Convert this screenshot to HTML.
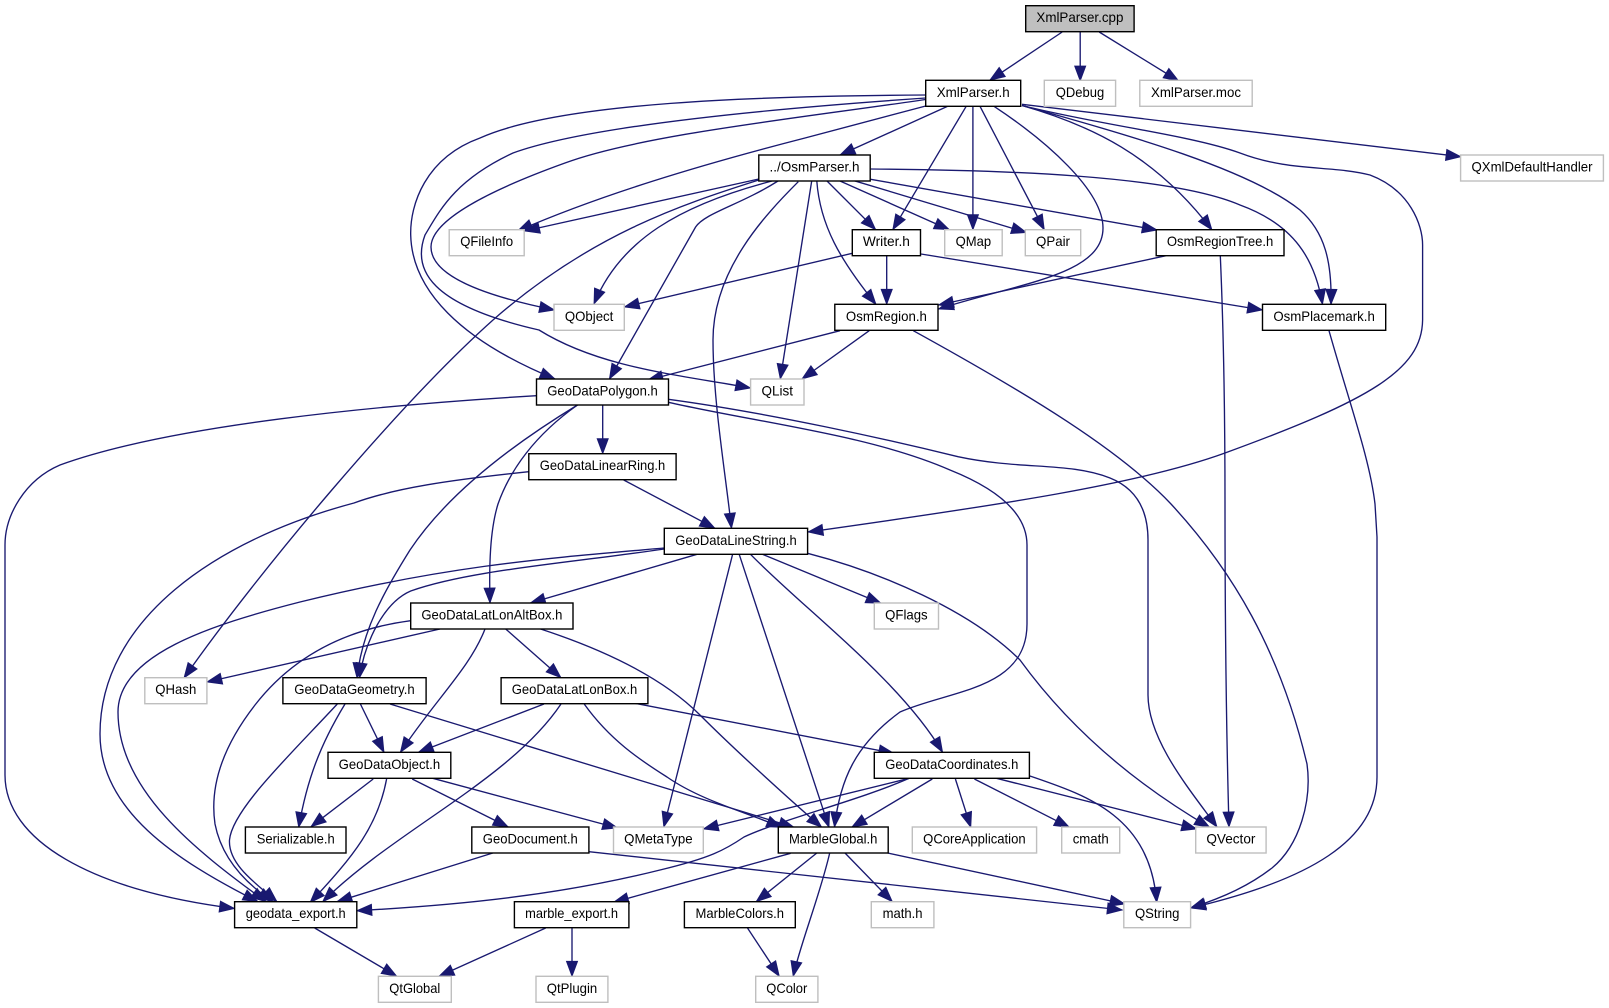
<!DOCTYPE html>
<html>
<head>
<meta charset="utf-8">
<title>XmlParser.cpp</title>
<style>
html,body{margin:0;padding:0;background:#fff}
svg{display:block}
.e path{fill:none;stroke:#191970;stroke-width:1.35;marker-end:url(#a)}
.n rect{fill:#fff;stroke:#000;stroke-width:1.4}
.g rect{fill:#fff;stroke:#bfbfbf;stroke-width:1.4}
text{font-family:"Liberation Sans",sans-serif;font-size:13.8px;fill:#000;text-anchor:middle}
</style>
</head>
<body>
<svg xmlns="http://www.w3.org/2000/svg" width="1609" height="1008" viewBox="0 0 1609 1008">
<defs>
<marker id="a" markerUnits="userSpaceOnUse" markerWidth="17" markerHeight="13" refX="15" refY="6" orient="auto" overflow="visible">
<path d="M0,0.4 L15,6 L0,11.6 Z" fill="#191970" stroke="#191970" stroke-width="0.8"/>
</marker>
</defs>
<g class="e">
<path d="M1062.2,32 L989.8,80.3"/>
<path d="M1080.2,32 L1080.2,81"/>
<path d="M1099.2,32 L1178.7,81"/>
<path d="M947.7,106.3 L840,155"/>
<path d="M966.2,106.3 L892.8,229.7"/>
<path d="M972.9,106.3 L972.9,229.7"/>
<path d="M980,106.3 L1044.3,229.7"/>
<path d="M994,106.3 C1045,140 1103,190 1103,228 C1103,275 1020,283 938.5,309"/>
<path d="M1022,105.5 C1090,125 1155,155 1212,230"/>
<path d="M1022,105.5 C1130,135 1250,170 1300,210 C1325,232 1332,262 1331,304.3"/>
<path d="M1022,105.5 C1100,125 1190,135 1240,153 C1290,172 1330,165 1370,175 C1410,190 1422.6,225 1422.6,245 L1422.6,320 C1422,370 1370,400 1225,453 C1140,484 1000,505 808,532"/>
<path d="M1022,104.3 L1461,156.7"/>
<path d="M925.7,95 C760,96 560,102 480,138 C425,158 410,205 410.7,235 C412,290 460,340 555,379"/>
<path d="M925.7,98 C780,108 590,125 513,153 C455,180 440,210 425,235 C412,270 430,305 539,330 C600,368 680,375 750.6,388"/>
<path d="M925.7,99.5 C800,118 640,135 565,163 C490,190 431,220 431,247 C431,275 480,295 554.5,310"/>
<path d="M925.7,106 L805,138 C700,165 600,195 517.5,231"/>
<path d="M758.8,179 L524.6,231"/>
<path d="M758.8,180 C680,205 590,235 493,320 C400,403 260,570 184,678"/>
<path d="M772,181 C680,205 620,240 594,304"/>
<path d="M778,181 C740,205 705,213 695.6,227 L609.4,379"/>
<path d="M798.3,181.7 C765,215 713,270 713,340 C713,400 725,470 731.5,528.3"/>
<path d="M811.7,181 L780.3,379"/>
<path d="M816.8,181 C820,225 840,260 876,304.3"/>
<path d="M827,181 L875.7,229.7"/>
<path d="M840,181 L949.3,229.7"/>
<path d="M852.8,180.3 L1026.5,232.5"/>
<path d="M870.7,179.3 L1157.2,230"/>
<path d="M870.7,169 C1000,170 1170,175 1240,205 C1295,225 1315,260 1322.5,304.3"/>
<path d="M852.3,253.3 L624.3,307"/>
<path d="M886.7,255.7 L886.7,304.3"/>
<path d="M921,254 L1262.5,310"/>
<path d="M1166,255.7 L938.5,305"/>
<path d="M1220.3,255.7 C1224,340 1225,420 1225,504 C1225,620 1226,720 1229,827"/>
<path d="M840,330.7 L647.9,380"/>
<path d="M869.2,330.7 L802,379"/>
<path d="M913.3,330.7 C1030,395 1120,450 1171,504 C1232,570 1280,650 1307,764 C1312,800 1300,845 1272,868 C1250,885 1225,897 1190.6,908"/>
<path d="M1329,330.7 C1350,405 1370,460 1375,504 L1377,537 L1377,777 C1377,840 1310,880 1190.6,908"/>
<path d="M536.5,395.7 C380,405 170,425 60,465 C25,480 5,515 5,545 L5,775 C5,840 90,890 234.6,908.5"/>
<path d="M577.5,405 C520,440 450,490 410,550 C385,590 362,630 357,678"/>
<path d="M577.5,405 C535,435 510,470 498,504 C490,530 489,565 490,603"/>
<path d="M602.7,405 L602.7,453.7"/>
<path d="M668.4,399.3 C770,413 890,440 958,456.7 C1020,470 1070,462 1110,478 C1140,490 1148,515 1148,540 L1148,695 C1148,740 1190,790 1217,827"/>
<path d="M668.4,402.3 C760,423 870,435 950,470 C1000,490 1027,515 1027,545 L1027,624 C1027,690 950,690 900,712 C855,745 840,780 834.5,827"/>
<path d="M623.7,480 L715,528.3"/>
<path d="M528.8,471.7 C450,480 395,488 354,503 C215,540 100,620 100,734 C100,810 175,860 258,901.7"/>
<path d="M664.3,548 C550,558 450,565 300,602 C210,625 118,655 118,712 C118,790 195,850 266,901.7"/>
<path d="M664.3,549 C570,563 470,570 410.7,591 C385,602 365,640 359.4,678"/>
<path d="M697,554.3 L530.3,603"/>
<path d="M732.6,554.3 L663.8,827"/>
<path d="M739.2,554.3 L829,827.3"/>
<path d="M750.5,554.3 C805,610 900,680 942.6,752.3"/>
<path d="M762.4,554.3 L881,603.3"/>
<path d="M807.6,553.3 C880,572 970,610 1020,660 C1060,715 1120,775 1209.6,827.3"/>
<path d="M410.7,620.7 C340,630 290,660 255,705 C220,750 210,790 215,824 C222,860 248,885 273,901.7"/>
<path d="M440,629 L206.9,682"/>
<path d="M485,629 C470,668 435,700 400.4,752.3"/>
<path d="M505.7,629 L561,677.7"/>
<path d="M540.6,629 C620,655 670,685 700,715 C735,750 790,800 821.7,827.3"/>
<path d="M544,704 L418.4,752.3"/>
<path d="M561,704 C510,780 395,830 322.7,901.7"/>
<path d="M584.2,704 C610,740 640,760 667,777 C700,800 745,812 781.7,827.3"/>
<path d="M635,703.3 L893.8,753.3"/>
<path d="M337.3,704 C290,755 232,810 229.5,840 C228,865 258,885 277,901.7"/>
<path d="M345,704 C320,745 307,780 298.7,827.3"/>
<path d="M360.4,704 L384,752.3"/>
<path d="M390,704 L794,827.3"/>
<path d="M373.2,779 L311,826.7"/>
<path d="M386.6,779 C378,825 355,855 310,902.7"/>
<path d="M412.2,779 L508.2,827"/>
<path d="M432.8,778.3 L617.6,828"/>
<path d="M492.8,853 L337,901.7"/>
<path d="M588.9,851.7 L1122.3,910"/>
<path d="M909.2,778.3 C860,800 780,820 744,837 C725,850 710,858 660,870 C560,895 460,905 356.8,910.7"/>
<path d="M909.2,778.3 L703.3,829"/>
<path d="M932.3,779 L851.7,827.3"/>
<path d="M955.4,779 L970.8,827.3"/>
<path d="M974.4,779 L1069.4,827.3"/>
<path d="M996.5,778.3 L1196.7,829"/>
<path d="M1029.9,776 C1085,795 1150,815 1156.7,902.3"/>
<path d="M790.6,853.3 L613.5,902.3"/>
<path d="M816.8,853 L756.2,901.7"/>
<path d="M829.7,853 C820,895 800,945 793.2,976.3"/>
<path d="M845,853 L892.3,901.7"/>
<path d="M887.7,853 L1124.9,904"/>
<path d="M545.7,928 L439,976.3"/>
<path d="M572,928 L572,976.3"/>
<path d="M747.5,928 L779.3,976.3"/>
<path d="M314.7,928 L396.8,976.3"/>
</g>
<g class="n">
<rect x="1025.7" y="5.7" width="108.4" height="26" style="fill:#bfbfbf"/>
<text x="1079.9" y="22.2" textLength="87" lengthAdjust="spacingAndGlyphs">XmlParser.cpp</text>
<rect x="925.7" y="80.3" width="95" height="26"/>
<text x="973.2" y="96.8" textLength="73" lengthAdjust="spacingAndGlyphs">XmlParser.h</text>
<rect x="758.8" y="155" width="111.4" height="26"/>
<text x="814.5" y="171.5" textLength="90" lengthAdjust="spacingAndGlyphs">../OsmParser.h</text>
<rect x="852.3" y="229.7" width="68.2" height="26"/>
<text x="886.4" y="246.2" textLength="47" lengthAdjust="spacingAndGlyphs">Writer.h</text>
<rect x="1156.2" y="229.7" width="127.8" height="26"/>
<text x="1220.1" y="246.2" textLength="106.5" lengthAdjust="spacingAndGlyphs">OsmRegionTree.h</text>
<rect x="834.8" y="304.3" width="103.2" height="26"/>
<text x="886.4" y="320.8" textLength="81" lengthAdjust="spacingAndGlyphs">OsmRegion.h</text>
<rect x="1262.5" y="304.3" width="123.2" height="26"/>
<text x="1324.1" y="320.8" textLength="101.5" lengthAdjust="spacingAndGlyphs">OsmPlacemark.h</text>
<rect x="536.5" y="379" width="132" height="26"/>
<text x="602.5" y="395.5" textLength="110.5" lengthAdjust="spacingAndGlyphs">GeoDataPolygon.h</text>
<rect x="528.8" y="453.7" width="147.3" height="26"/>
<text x="602.5" y="470.2" textLength="125.5" lengthAdjust="spacingAndGlyphs">GeoDataLinearRing.h</text>
<rect x="664.3" y="528.3" width="143.3" height="26"/>
<text x="736" y="544.8" textLength="121.5" lengthAdjust="spacingAndGlyphs">GeoDataLineString.h</text>
<rect x="410.7" y="603" width="162.3" height="26"/>
<text x="491.9" y="619.5" textLength="141" lengthAdjust="spacingAndGlyphs">GeoDataLatLonAltBox.h</text>
<rect x="282.9" y="677.7" width="143.2" height="26"/>
<text x="354.5" y="694.2" textLength="120.5" lengthAdjust="spacingAndGlyphs">GeoDataGeometry.h</text>
<rect x="501.1" y="677.7" width="146.8" height="26"/>
<text x="574.5" y="694.2" textLength="125.5" lengthAdjust="spacingAndGlyphs">GeoDataLatLonBox.h</text>
<rect x="328" y="752.3" width="122.8" height="26"/>
<text x="389.4" y="768.8" textLength="101.5" lengthAdjust="spacingAndGlyphs">GeoDataObject.h</text>
<rect x="874.3" y="752.3" width="155.1" height="26"/>
<text x="951.8" y="768.8" textLength="133" lengthAdjust="spacingAndGlyphs">GeoDataCoordinates.h</text>
<rect x="245.4" y="827" width="100.6" height="26"/>
<text x="295.7" y="843.5" textLength="78" lengthAdjust="spacingAndGlyphs">Serializable.h</text>
<rect x="471.8" y="827" width="117.1" height="26"/>
<text x="530.3" y="843.5" textLength="95" lengthAdjust="spacingAndGlyphs">GeoDocument.h</text>
<rect x="778.3" y="827" width="109.9" height="26"/>
<text x="833.2" y="843.5" textLength="88.5" lengthAdjust="spacingAndGlyphs">MarbleGlobal.h</text>
<rect x="234.6" y="901.7" width="122.2" height="26"/>
<text x="295.7" y="918.2" textLength="100" lengthAdjust="spacingAndGlyphs">geodata_export.h</text>
<rect x="514.4" y="901.7" width="114.5" height="26"/>
<text x="571.6" y="918.2" textLength="93" lengthAdjust="spacingAndGlyphs">marble_export.h</text>
<rect x="684.4" y="901.7" width="110.9" height="26"/>
<text x="739.8" y="918.2" textLength="88.5" lengthAdjust="spacingAndGlyphs">MarbleColors.h</text>
</g>
<g class="g">
<rect x="1044.3" y="80.3" width="71.3" height="26"/>
<text x="1080" y="96.8" textLength="48.5" lengthAdjust="spacingAndGlyphs">QDebug</text>
<rect x="1139.8" y="80.3" width="112.4" height="26"/>
<text x="1196" y="96.8" textLength="90" lengthAdjust="spacingAndGlyphs">XmlParser.moc</text>
<rect x="1460.6" y="155" width="142.8" height="26"/>
<text x="1532" y="171.5" textLength="121" lengthAdjust="spacingAndGlyphs">QXmlDefaultHandler</text>
<rect x="449.2" y="229.7" width="75" height="26"/>
<text x="486.7" y="246.2" textLength="53" lengthAdjust="spacingAndGlyphs">QFileInfo</text>
<rect x="944.7" y="229.7" width="57.5" height="26"/>
<text x="973.4" y="246.2" textLength="35.5" lengthAdjust="spacingAndGlyphs">QMap</text>
<rect x="1025.3" y="229.7" width="55.4" height="26"/>
<text x="1053" y="246.2" textLength="34" lengthAdjust="spacingAndGlyphs">QPair</text>
<rect x="554" y="304.3" width="70.3" height="26"/>
<text x="589.1" y="320.8" textLength="48.5" lengthAdjust="spacingAndGlyphs">QObject</text>
<rect x="750.6" y="379" width="53.4" height="26"/>
<text x="777.3" y="395.5" textLength="31.5" lengthAdjust="spacingAndGlyphs">QList</text>
<rect x="874.3" y="603" width="64.2" height="26"/>
<text x="906.4" y="619.5" textLength="42.5" lengthAdjust="spacingAndGlyphs">QFlags</text>
<rect x="144.8" y="677.7" width="62.1" height="26"/>
<text x="175.8" y="694.2" textLength="41" lengthAdjust="spacingAndGlyphs">QHash</text>
<rect x="613.5" y="827" width="89.8" height="26"/>
<text x="658.4" y="843.5" textLength="68.5" lengthAdjust="spacingAndGlyphs">QMetaType</text>
<rect x="912.3" y="827" width="124.3" height="26"/>
<text x="974.4" y="843.5" textLength="102.5" lengthAdjust="spacingAndGlyphs">QCoreApplication</text>
<rect x="1061.7" y="827" width="58" height="26"/>
<text x="1090.7" y="843.5" textLength="36" lengthAdjust="spacingAndGlyphs">cmath</text>
<rect x="1195.7" y="827" width="70.4" height="26"/>
<text x="1230.9" y="843.5" textLength="49" lengthAdjust="spacingAndGlyphs">QVector</text>
<rect x="871.3" y="901.7" width="62.6" height="26"/>
<text x="902.6" y="918.2" textLength="40" lengthAdjust="spacingAndGlyphs">math.h</text>
<rect x="1123.8" y="901.7" width="66.8" height="26"/>
<text x="1157.2" y="918.2" textLength="44.5" lengthAdjust="spacingAndGlyphs">QString</text>
<rect x="378.4" y="976.3" width="72.9" height="26"/>
<text x="414.8" y="992.8" textLength="51" lengthAdjust="spacingAndGlyphs">QtGlobal</text>
<rect x="536" y="976.3" width="71.9" height="26"/>
<text x="572" y="992.8" textLength="50.5" lengthAdjust="spacingAndGlyphs">QtPlugin</text>
<rect x="755.7" y="976.3" width="62.2" height="26"/>
<text x="786.8" y="992.8" textLength="41" lengthAdjust="spacingAndGlyphs">QColor</text>
</g>
</svg>
</body>
</html>
